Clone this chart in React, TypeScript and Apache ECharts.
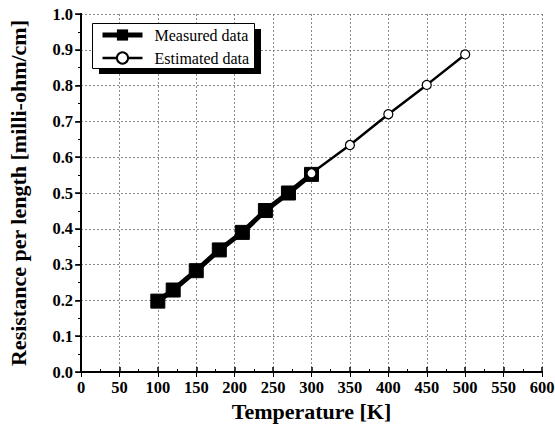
import React, { useEffect, useRef } from "react";
import * as echarts from "echarts";

const measuredT = [100, 120, 150, 180, 210, 240, 270, 300];
const measuredR = [0.198, 0.229, 0.283, 0.341, 0.390, 0.451, 0.500, 0.552];
const estimatedT = [300, 350, 400, 450, 500];
const estimatedR = [0.555, 0.634, 0.720, 0.802, 0.887];

const FONT = "Liberation Serif";

export default function App() {
  const ref = useRef<HTMLDivElement>(null);
  useEffect(() => {
    const chart = echarts.init(ref.current!, null, { renderer: "svg" });
    const grid = { lineStyle: { color: "#8a8a8a", type: [2, 2] as any, width: 1 } };
    const tickRich = { t: { fontFamily: FONT, fontSize: 16.5, fontWeight: "bold" as any, color: "#000" } };
    chart.setOption({
      animation: false,
      backgroundColor: "#fff",
      textStyle: { fontFamily: FONT },
      grid: { left: 81, right: 13, top: 14, bottom: 62, outerBoundsMode: "none", containLabel: false } as any,
      graphic: [
        { type: "rect", shape: { x: 99, y: 29, width: 162, height: 45 }, style: { fill: "#000" }, z: 5 },
        { type: "rect", shape: { x: 92.5, y: 23.5, width: 162, height: 45 }, style: { fill: "#fff", stroke: "#000", lineWidth: 1 }, z: 6 },
      ],
      legend: {
        left: 100,
        top: 27,
        orient: "vertical",
        padding: 0,
        itemWidth: 40,
        itemHeight: 14,
        itemGap: 7,
        z: 10,
        textStyle: { fontFamily: FONT, fontSize: 16, color: "#000", padding: [0, 0, 0, 7] },
        data: [
          { name: "Measured data", lineStyle: { width: 5, color: "#000" } } as any,
          { name: "Estimated data", lineStyle: { width: 2.5, color: "#000" } } as any,
        ],
      },
      xAxis: [
        {
          type: "value",
          min: 0,
          max: 600,
          interval: 50,
          name: "Temperature [K]",
          nameLocation: "middle",
          nameGap: 28,
          nameTextStyle: { fontFamily: FONT, fontSize: 22, fontWeight: "bold", color: "#000" },
          axisLine: { lineStyle: { color: "#000", width: 2 } },
          axisTick: { inside: true, length: 5, lineStyle: { color: "#000", width: 1.5 } },
          minorTick: { show: true, splitNumber: 2, length: 3, lineStyle: { color: "#000" } },
          axisLabel: { margin: 7, fontFamily: FONT, formatter: (v: number) => `{t|${v}}`, rich: tickRich },
          splitLine: { show: true, ...grid },
        },
        {
          type: "value",
          position: "top",
          min: 0,
          max: 600,
          interval: 50,
          axisLine: { show: true, lineStyle: { color: "#000", width: 2 } },
          axisTick: { show: true, inside: true, length: 5, lineStyle: { color: "#000" } },
          axisLabel: { show: false },
          splitLine: { show: false },
        },
      ],
      yAxis: [
        {
          type: "value",
          min: 0,
          max: 1,
          interval: 0.1,
          name: "Resistance per length [milli-ohm/cm]",
          nameLocation: "middle",
          nameGap: 52,
          nameTextStyle: { fontFamily: FONT, fontSize: 22, fontWeight: "bold", color: "#000" },
          axisLine: { show: true, lineStyle: { color: "#000", width: 2 } },
          axisTick: { show: true, length: 6, lineStyle: { color: "#000", width: 1.5 } },
          minorTick: { show: true, splitNumber: 2, length: 3, lineStyle: { color: "#000" } },
          axisLabel: {
            margin: 8,
            fontFamily: FONT,
            formatter: (v: number) => `{t|${v.toFixed(1)}}`,
            rich: tickRich,
          },
          splitLine: { show: true, ...grid },
        },
        {
          type: "value",
          position: "right",
          min: 0,
          max: 1,
          interval: 0.1,
          axisLine: { show: true, lineStyle: { color: "#000", width: 2 } },
          axisTick: { show: true, inside: true, length: 5, lineStyle: { color: "#000" } },
          axisLabel: { show: false },
          splitLine: { show: false },
        },
      ],
      series: [
        {
          name: "Measured data",
          type: "line",
          data: measuredT.map((t, i) => [t, measuredR[i]]),
          symbol: "rect",
          symbolSize: 14,
          lineStyle: { color: "#000", width: 5 },
          itemStyle: { color: "#000", borderColor: "#000" },
          z: 3,
        },
        {
          name: "Estimated data",
          type: "line",
          data: estimatedT.map((t, i) => [t, estimatedR[i]]),
          symbol: "circle",
          symbolSize: 9,
          showAllSymbol: true,
          lineStyle: { color: "#000", width: 2.5 },
          itemStyle: { color: "#fff", borderColor: "#000", borderWidth: 1.2 },
          z: 4,
        },
      ],
    });
    return () => chart.dispose();
  }, []);
  return <div ref={ref} style={{ width: 555, height: 434, position: "absolute", left: 0, top: 0 }} />;
}
